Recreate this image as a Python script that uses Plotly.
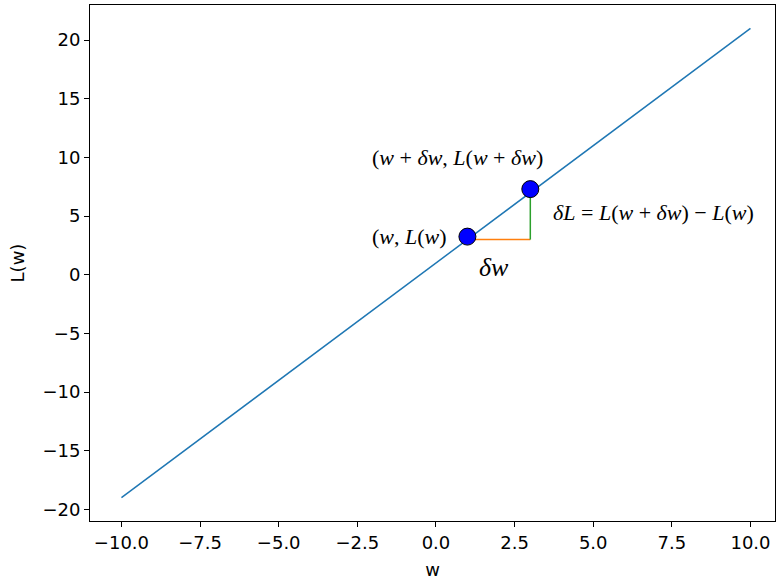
import numpy as np
import plotly.graph_objects as go

# Data
w_line = [-10.0, 10.0]
L_line = [-19.0, 21.0]
pts_w = [1.0, 3.0]
pts_L = [3.25, 7.3]
dw_x = [1.0, 3.0]
dw_y = [3.0, 3.0]
dL_x = [3.0, 3.0]
dL_y = [3.0, 7.0]
x_ticks = [-10.0, -7.5, -5.0, -2.5, 0.0, 2.5, 5.0, 7.5, 10.0]
y_ticks = [-20, -15, -10, -5, 0, 5, 10, 15, 20]

fig = go.Figure()
fig.add_trace(go.Scatter(x=w_line, y=L_line, mode="lines",
                         line=dict(color="#1f77b4", width=1.5), showlegend=False))
fig.add_trace(go.Scatter(x=dw_x, y=dw_y, mode="lines",
                         line=dict(color="#ff7f0e", width=1.5), showlegend=False))
fig.add_trace(go.Scatter(x=dL_x, y=dL_y, mode="lines",
                         line=dict(color="#2ca02c", width=1.5), showlegend=False))
fig.add_trace(go.Scatter(x=pts_w, y=pts_L, mode="markers",
                         marker=dict(color="#0000ff", size=17,
                                     line=dict(color="black", width=1)),
                         showlegend=False))

serif = "Liberation Serif, DejaVu Serif, serif"
ann_font = dict(family=serif, size=22, color="black")
fig.add_annotation(x=-2.1, y=10.0, xref="x", yref="y", xanchor="left", yanchor="middle",
                   text="(<i>w</i> + <i>δw</i>, <i>L</i>(<i>w</i> + <i>δw</i>)",
                   showarrow=False, font=ann_font)
fig.add_annotation(x=-2.1, y=3.3, xref="x", yref="y", xanchor="left", yanchor="middle",
                   text="(<i>w</i>, <i>L</i>(<i>w</i>)",
                   showarrow=False, font=ann_font)
fig.add_annotation(x=3.65, y=5.3, xref="x", yref="y", xanchor="left", yanchor="middle",
                   text="<i>δL</i> = <i>L</i>(<i>w</i> + <i>δw</i>) − <i>L</i>(<i>w</i>)",
                   showarrow=False, font=ann_font)
fig.add_annotation(x=1.3, y=0.6, xref="x", yref="y", xanchor="left", yanchor="middle",
                   text="<i>δw</i>",
                   showarrow=False, font=dict(family=serif, size=26, color="black"))

tickfont = dict(family="DejaVu Sans", size=18, color="black")
fig.update_xaxes(range=[-11, 10.78], tickvals=x_ticks, tickformat=".1f",
                 showgrid=False, zeroline=False, showline=True, mirror=True,
                 linecolor="black", linewidth=1, ticks="outside", ticklen=5,
                 tickcolor="black", tickfont=tickfont, automargin=False,
                 title=dict(text="w", font=tickfont, standoff=11))
fig.update_yaxes(range=[-21, 23], tickvals=y_ticks,
                 showgrid=False, zeroline=False, showline=True, mirror=True,
                 linecolor="black", linewidth=1, ticks="outside", ticklen=5,
                 tickcolor="black", tickfont=tickfont, automargin=False,
                 title=dict(text="L(w)", font=tickfont, standoff=13))
fig.update_layout(width=776, height=581, plot_bgcolor="white", paper_bgcolor="white",
                  margin=dict(l=90, r=1, t=5, b=60))
fig.write_html("out.html", config={"displayModeBar": False},
               post_script="document.body.style.margin='0px';")
